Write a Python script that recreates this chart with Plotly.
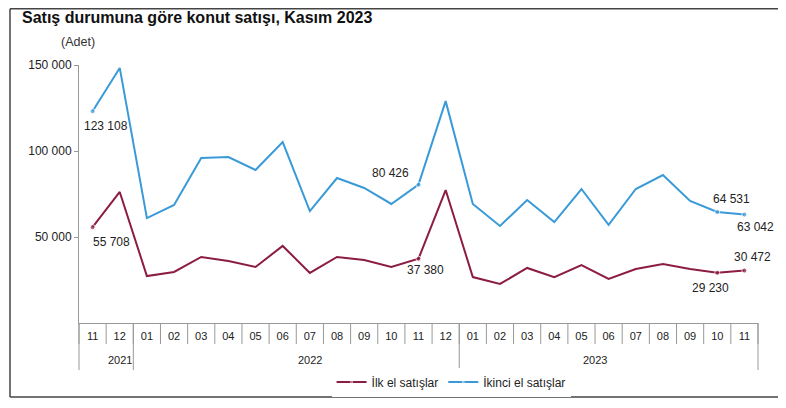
import plotly.graph_objects as go

YILLAR = ["2021"] * 2 + ["2022"] * 12 + ["2023"] * 11
AYLAR = ["11", "12",
         "01", "02", "03", "04", "05", "06", "07", "08", "09", "10", "11", "12",
         "01", "02", "03", "04", "05", "06", "07", "08", "09", "10", "11"]

ILK_EL = [55708, 76200,
          27300, 29700, 38400, 36000, 32600, 44800, 29100, 38400, 36600, 32600, 37380, 77300,
          26700, 22700, 32000, 26700, 33700, 25600, 31400, 34300, 31400, 29230, 30472]
IKINCI_EL = [123108, 148300,
             61000, 68600, 95900, 96500, 89000, 105200, 65100, 84300, 78500, 69200, 80426, 129000,
             69200, 56400, 71500, 58700, 77900, 57000, 77900, 86000, 71000, 64531, 63042]

# etiket gosterilecek noktalar: indeks -> (xshift, yshift)
ETIKET_ILK = {0: (19, -15), 12: (7, -11), 23: (-7, -15), 24: (8, 14)}
ETIKET_IKINCI = {0: (13, -15), 12: (-28, 12), 23: (14, 13), 24: (11, -12)}

KIRMIZI = "#8c1d40"
MAVI = "#3a9ad8"
YAZI = "#222222"
EKSEN = "#999999"

# tekil kategori anahtarlari
DONEMLER = [f"{y}-{a}" for y, a in zip(YILLAR, AYLAR)]
N = len(DONEMLER)

# sayfa 8 px kenar boslugu ile aciliyor; kaydirma cubugu cikmasin diye kucuk tutuldu
GENISLIK, YUKSEKLIK = 770, 390
ALAN_GENISLIK, ALAN_YUKSEKLIK = 679, 258
SOL, UST = 71, 57

fig = go.Figure()
for ad, degerler, secim, renk in [
        ("İlk el satışlar", ILK_EL, ETIKET_ILK, KIRMIZI),
        ("İkinci el satışlar", IKINCI_EL, ETIKET_IKINCI, MAVI)]:
    boyut = [5 if i in secim else 0 for i in range(N)]
    fig.add_trace(go.Scatter(
        name=ad,
        x=DONEMLER,
        y=degerler,
        mode="lines+markers",
        line=dict(color=renk, width=2),
        marker=dict(color=renk, size=boyut),
        cliponaxis=False))
    for i, (dx, dy) in secim.items():
        fig.add_annotation(
            x=DONEMLER[i], y=degerler[i],
            text=f"{degerler[i]:,}".replace(",", " "),
            showarrow=False, xshift=dx, yshift=dy,
            font=dict(size=12, color=YAZI))

fig.update_layout(
    width=GENISLIK, height=YUKSEKLIK,
    margin=dict(t=UST, l=SOL,
                r=GENISLIK - SOL - ALAN_GENISLIK,
                b=YUKSEKLIK - UST - ALAN_YUKSEKLIK,
                autoexpand=False),
    paper_bgcolor="white",
    plot_bgcolor="white",
    separators=", ",
    font=dict(family="Liberation Sans, Arial, sans-serif", size=12, color=YAZI),
    title=dict(
        text="<b>Satış durumuna göre konut satışı, Kasım 2023</b>",
        xref="container", x=14 / GENISLIK, xanchor="left",
        yref="container", y=1 - 9 / YUKSEKLIK, yanchor="middle",
        font=dict(size=16, color="#111111")),
    legend=dict(
        orientation="h",
        x=0.548, xanchor="center",
        y=-0.229, yanchor="middle",
        font=dict(size=12),
        itemwidth=30),
    showlegend=True)

fig.update_xaxes(
    type="category",
    range=[-0.5, N - 0.5],
    tickvals=DONEMLER, ticktext=AYLAR,
    showline=True, linecolor=EKSEN, linewidth=1,
    ticks="", ticklabelstandoff=3,
    showgrid=False, automargin=False,
    tickfont=dict(size=11, color=YAZI))
fig.update_yaxes(
    range=[0, 150000],
    tickvals=[50000, 100000, 150000],
    tickformat=",d",
    showline=True, linecolor=EKSEN, linewidth=1,
    ticks="outside", ticklen=4, tickcolor=EKSEN,
    showgrid=False, zeroline=False, automargin=False,
    tickfont=dict(size=12, color=YAZI))

# ay ayiricilari
for k in range(N + 1):
    fig.add_shape(
        type="line", xref="paper", yref="paper",
        x0=k / N, x1=k / N, y0=0, y1=-21 / ALAN_YUKSEKLIK,
        line=dict(color=EKSEN, width=1))

# yil etiketleri ve ayiricilar
sinirlar = [0]
for i in range(1, N):
    if YILLAR[i] != YILLAR[i - 1]:
        sinirlar.append(i)
sinirlar.append(N)
for bas, son in zip(sinirlar[:-1], sinirlar[1:]):
    fig.add_annotation(
        text=YILLAR[bas], xref="paper", yref="paper",
        x=(bas + son) / 2 / N, y=-37 / ALAN_YUKSEKLIK, yanchor="middle",
        showarrow=False, font=dict(size=11, color=YAZI))
for s in sinirlar:
    fig.add_shape(
        type="line", xref="paper", yref="paper",
        x0=s / N, x1=s / N, y0=0, y1=-47 / ALAN_YUKSEKLIK,
        line=dict(color=EKSEN, width=1))

fig.add_annotation(
    text="(Adet)", xref="paper", yref="paper",
    x=-1 / ALAN_GENISLIK, xanchor="center",
    y=1.089, yanchor="middle", showarrow=False,
    font=dict(size=12.5, color="#333333"))

# cerceve (sol, ust, alt) - sag kenar yok
sol = (2 - SOL) / ALAN_GENISLIK
sag = (GENISLIK - SOL) / ALAN_GENISLIK
ust = (UST + ALAN_YUKSEKLIK - 0.75) / ALAN_YUKSEKLIK
alt = (UST + ALAN_YUKSEKLIK - (YUKSEKLIK - 1)) / ALAN_YUKSEKLIK
for x0, y0, x1, y1 in [(sol, ust, sag, ust), (sol, alt, sag, alt), (sol, alt, sol, ust)]:
    fig.add_shape(
        type="line", xref="paper", yref="paper",
        x0=x0, y0=y0, x1=x1, y1=y1,
        line=dict(color="#444444", width=1.5))

fig.write_html("out.html")
